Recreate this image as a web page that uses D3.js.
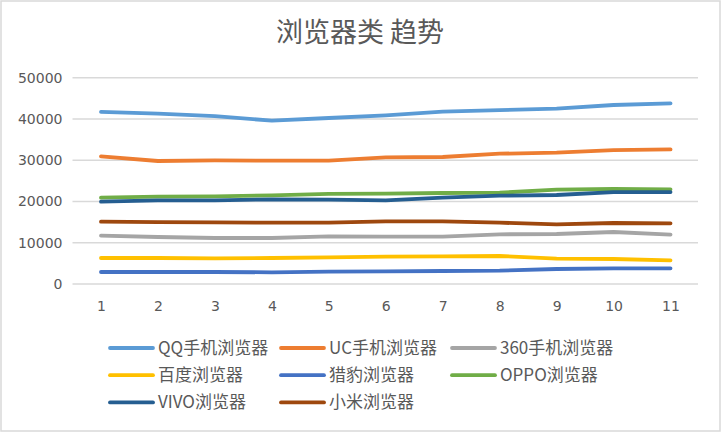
<!DOCTYPE html>
<html><head><meta charset="utf-8">
<script src="https://cdn.jsdelivr.net/npm/d3@7"></script>
<style>
html,body{margin:0;padding:0;background:#fff;}
svg{display:block;}
</style></head>
<body>
<svg id="chart" width="722" height="434"></svg>
<script>
const title = "浏览器类 趋势";
const categories = [1,2,3,4,5,6,7,8,9,10,11];
const yTicks = [0,10000,20000,30000,40000,50000];
const seriesNames = ["QQ手机浏览器","UC手机浏览器","360手机浏览器","百度浏览器","猎豹浏览器","OPPO浏览器","VIVO浏览器","小米浏览器"];
const seriesColors = ["#5B9BD5","#ED7D31","#A5A5A5","#FFC000","#4472C4","#70AD47","#255E91","#9E480E"];
const qq     = [41700,41280,40700,39580,40230,40870,41760,42160,42490,43380,43780];
const uc     = [30940,29810,29970,29890,29890,30690,30780,31580,31830,32470,32630];
const s360   = [11710,11390,11150,11150,11550,11470,11470,12040,12120,12600,11950];
const baidu  = [6300,6300,6220,6300,6460,6620,6700,6790,6140,6060,5740];
const liebao = [2910,2910,2910,2830,2990,3070,3150,3230,3630,3800,3800];
const oppo   = [20920,21160,21240,21490,21820,21900,22050,22130,22860,23020,22940];
const vivo   = [19950,20280,20280,20520,20440,20280,20920,21410,21570,22290,22290];
const xiaomi = [15100,15020,14940,14860,14860,15190,15190,14860,14460,14780,14700];
const seriesValues = [qq,uc,s360,baidu,liebao,oppo,vivo,xiaomi];

const svg = d3.select("#chart");
const textColor = "#595959";
const numFont = "'DejaVu Sans', sans-serif";
const cjkFont = "'Noto Sans CJK SC', 'DejaVu Sans', sans-serif";

svg.append("rect").attr("x",1).attr("y",1).attr("width",719).attr("height",430)
  .attr("fill","#fff").attr("stroke","#d9d9d9").attr("stroke-width",1.5);

svg.append("text").attr("x",360).attr("y",42).attr("text-anchor","middle")
  .attr("font-family",cjkFont).attr("font-size",27).attr("fill",textColor).text(title);

const x = d3.scaleLinear().domain([0.5,11.5]).range([72.5,699]);
const y = d3.scaleLinear().domain([0,50000]).range([284,77.7]);

// gridlines
svg.append("g").selectAll("line").data(yTicks).join("line")
  .attr("x1",72.5).attr("x2",698).attr("y1",d=>y(d)).attr("y2",d=>y(d))
  .attr("stroke","#d9d9d9").attr("stroke-width",1.4);

// y axis
const yAxis = svg.append("g").attr("transform","translate(72.5,0)")
  .call(d3.axisLeft(y).tickValues(yTicks).tickSize(0).tickPadding(10).tickFormat(d=>String(d)));
yAxis.select(".domain").remove();
yAxis.selectAll("text").attr("font-family",numFont).attr("font-size",14).attr("fill",textColor);

// x axis
const xAxis = svg.append("g").attr("transform","translate(0,284)")
  .call(d3.axisBottom(x).tickValues(categories).tickSize(0).tickPadding(17).tickFormat(d=>String(d)));
xAxis.select(".domain").remove();
xAxis.selectAll("text").attr("font-family",numFont).attr("font-size",14).attr("fill",textColor);

// lines
const line = d3.line().x((d,i)=>x(categories[i])).y(d=>y(d));
svg.append("g").selectAll("path").data(seriesValues).join("path")
  .attr("d",d=>line(d)).attr("fill","none")
  .attr("stroke",(d,i)=>seriesColors[i]).attr("stroke-width",3.8)
  .attr("stroke-linecap","round").attr("stroke-linejoin","round");

// legend
const lg = svg.append("g").selectAll("g").data(seriesNames).join("g")
  .attr("transform",(d,i)=>`translate(${110 + (i%3)*171},${348 + Math.floor(i/3)*27.2})`);
lg.append("line").attr("x1",0).attr("x2",43).attr("y1",0).attr("y2",0)
  .attr("stroke",(d,i)=>seriesColors[i]).attr("stroke-width",3.8).attr("stroke-linecap","round");
lg.append("text").attr("x",48).attr("y",6).attr("font-family",cjkFont).attr("font-size",17)
  .attr("fill",textColor).text(d=>d);
</script>
</body></html>
